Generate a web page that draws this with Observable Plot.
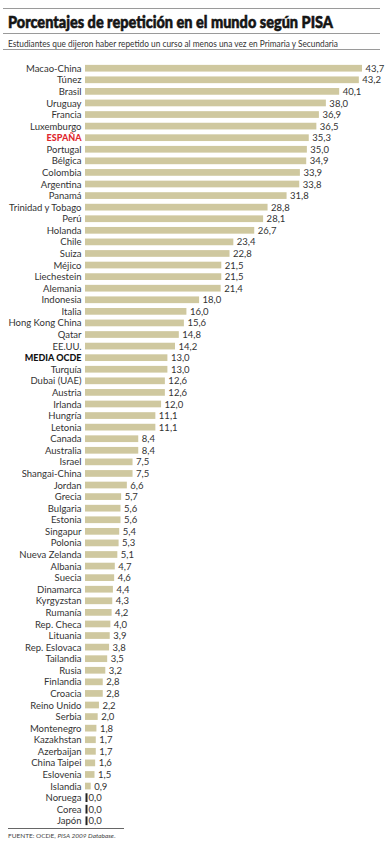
<!DOCTYPE html>
<html><head><meta charset="utf-8">
<script src="https://cdn.jsdelivr.net/npm/d3@7"></script>
<script src="https://cdn.jsdelivr.net/npm/@observablehq/plot@0.6"></script>
<style>
body{margin:0;background:#fff;font-family:Lato,sans-serif;}
#wrap{position:relative;width:387px;height:850px;overflow:hidden;}
.rule{position:absolute;height:0;border-top:1px solid #9a9a9a;}
.fit{position:absolute;left:8px;white-space:nowrap;transform-origin:0 0;}
#title{top:11px;font-family:Lato;font-weight:900;font-size:17px;color:#151515;-webkit-text-stroke:0.6px #151515;}
#subtitle{top:37px;font-family:Lato;font-size:10px;color:#333;}
#chart{position:absolute;left:0;top:52px;}
#source{position:absolute;left:8px;top:832px;font-family:Lato;font-size:6.5px;color:#444;white-space:nowrap;}
</style></head>
<body>
<div id="wrap">
  <div class="rule" style="left:3px;width:377px;top:8px"></div>
  <div id="title" class="fit" data-w="325">Porcentajes de repetición en el mundo según PISA</div>
  <div class="rule" style="left:3px;width:377px;top:33px"></div>
  <div id="subtitle" class="fit" data-w="330">Estudiantes que dijeron haber repetido un curso al menos una vez en Primaria y Secundaria</div>
  <div class="rule" style="left:3px;width:377px;top:49px"></div>
  <div id="chart"></div>
  <div class="rule" style="left:8px;width:116px;top:828px;border-top-color:#666"></div>
  <div id="source">FUENTE: OCDE, <i>PISA 2009 Database</i>.</div>
</div>
<script>
const countries = ["Macao-China","Túnez","Brasil","Uruguay","Francia","Luxemburgo","ESPAÑA","Portugal","Bélgica","Colombia","Argentina","Panamá","Trinidad y Tobago","Perú","Holanda","Chile","Suiza","Méjico","Liechestein","Alemania","Indonesia","Italia","Hong Kong China","Qatar","EE.UU.","MEDIA OCDE","Turquía","Dubai (UAE)","Austria","Irlanda","Hungría","Letonia","Canada","Australia","Israel","Shangai-China","Jordan","Grecia","Bulgaria","Estonia","Singapur","Polonia","Nueva Zelanda","Albania","Suecia","Dinamarca","Kyrgyzstan","Rumanía","Rep. Checa","Lituania","Rep. Eslovaca","Tailandia","Rusia","Finlandia","Croacia","Reino Unido","Serbia","Montenegro","Kazakhstan","Azerbaijan","China Taipei","Eslovenia","Islandia","Noruega","Corea","Japón"];
const values = [43.7,43.2,40.1,38.0,36.9,36.5,35.3,35.0,34.9,33.9,33.8,31.8,28.8,28.1,26.7,23.4,22.8,21.5,21.5,21.4,18.0,16.0,15.6,14.8,14.2,13.0,13.0,12.6,12.6,12.0,11.1,11.1,8.4,8.4,7.5,7.5,6.6,5.7,5.6,5.6,5.4,5.3,5.1,4.7,4.6,4.4,4.3,4.2,4.0,3.9,3.8,3.5,3.2,2.8,2.8,2.2,2.0,1.8,1.7,1.7,1.6,1.5,0.9,0.0,0.0,0.0];
const highlightSpain = "ESPAÑA";
const highlightOECD = "MEDIA OCDE";

// fit header texts horizontally to the reference widths
document.querySelectorAll(".fit").forEach(el => {
  const w = el.getBoundingClientRect().width;
  el.style.transform = `scaleX(${(+el.dataset.w) / w})`;
});

const data = countries.map((c, i) => ({country: c, value: values[i]}));
const fmt = v => v.toFixed(1).replace(".", ",");
const normal = data.filter(d => d.country !== highlightSpain && d.country !== highlightOECD);

const chart = Plot.plot({
  width: 387,
  height: 777,
  marginTop: 8,
  marginBottom: 0,
  marginLeft: 85,
  marginRight: 25,
  style: {fontFamily: "Lato, sans-serif", background: "transparent"},
  x: {domain: [0, 43.7], axis: null},
  y: {domain: countries, axis: null, padding: 0.42},
  marks: [
    Plot.barX(data.filter(d => d.value > 0), {x: "value", y: "country", fill: "#cfc89f"}),
    Plot.tickX(data.filter(d => d.value === 0), {x: 0, y: "country", stroke: "#222", strokeWidth: 2, dx: 1, insetTop: -1, insetBottom: -1}),
    Plot.text(data, {x: "value", y: "country", text: d => fmt(d.value), textAnchor: "start", fontSize: 9.5, fill: "#333", dx: 3}),
    Plot.text(normal, {x: 0, y: "country", text: "country", textAnchor: "end", dx: -4, fontSize: 9.5, fill: "#333"}),
    Plot.text(data.filter(d => d.country === highlightSpain), {x: 0, y: "country", text: "country", textAnchor: "end", dx: -4, fontSize: 9, fontWeight: 900, fill: "#e0282e"}),
    Plot.text(data.filter(d => d.country === highlightOECD), {x: 0, y: "country", text: "country", textAnchor: "end", dx: -4, fontSize: 9, fontWeight: 900, fill: "#111"})
  ]
});
document.getElementById("chart").appendChild(chart);
</script>
</body></html>
